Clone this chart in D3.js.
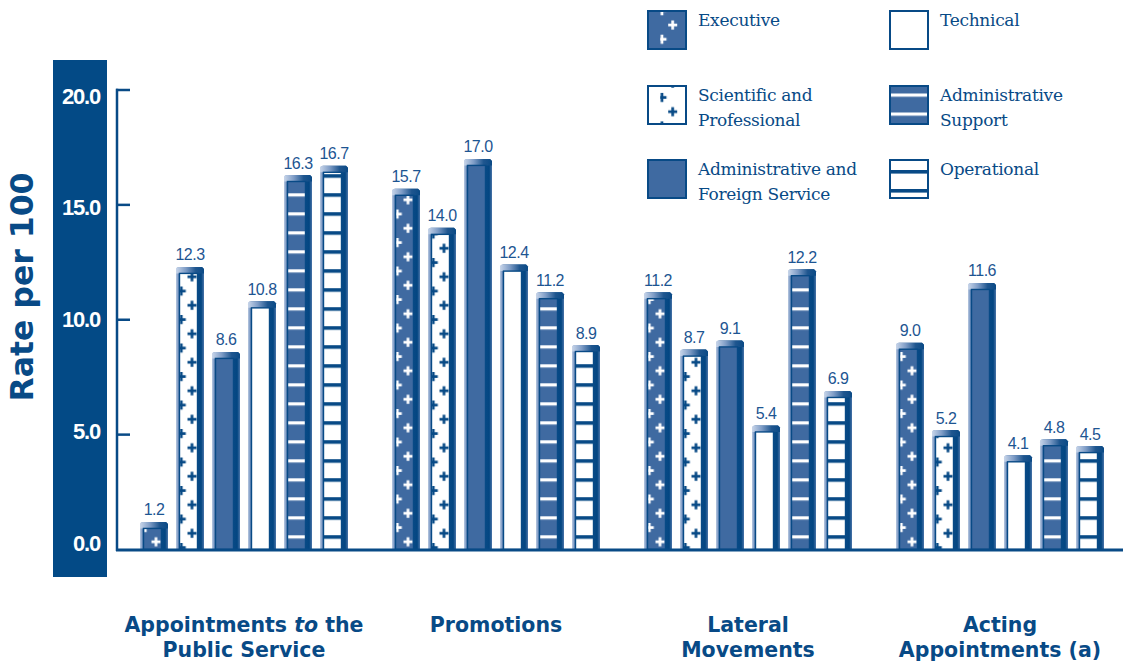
<!DOCTYPE html>
<html>
<head>
<meta charset="utf-8">
<script src="https://cdn.jsdelivr.net/npm/d3@7"></script>
<style>
  html, body { margin: 0; padding: 0; background: #ffffff; }
  svg { display: block; }
</style>
</head>
<body>
<svg id="chart" width="1123" height="663"></svg>
<script>
// ---------------- DATA ----------------
const categories = ["Appointments to the Public Service", "Promotions", "Lateral Movements", "Acting Appointments (a)"];
const categoryLines = [
  ["Appointments *to* the", "Public Service"],
  ["Promotions"],
  ["Lateral", "Movements"],
  ["Acting", "Appointments (a)"]
];
const series = ["Executive", "Scientific and Professional", "Administrative and Foreign Service", "Technical", "Administrative Support", "Operational"];
const seriesLegendLines = [
  ["Executive"],
  ["Scientific and", "Professional"],
  ["Administrative and", "Foreign Service"],
  ["Technical"],
  ["Administrative", "Support"],
  ["Operational"]
];
const executive    = [1.2, 15.7, 11.2, 9.0];
const scientific   = [12.3, 14.0, 8.7, 5.2];
const adminForeign = [8.6, 17.0, 9.1, 11.6];
const technical    = [10.8, 12.4, 5.4, 4.1];
const adminSupport = [16.3, 11.2, 12.2, 4.8];
const operational  = [16.7, 8.9, 6.9, 4.5];
const seriesValues = [executive, scientific, adminForeign, technical, adminSupport, operational];
const yTicks = [0, 5, 10, 15, 20];
const yTickLabels = ["0.0", "5.0", "10.0", "15.0", "20.0"];
const yTitle = "Rate per 100";

// ---------------- STYLE ----------------
const DARK = "#084a86";
const MED = "#3f6aa1";
const LABEL = "#1d5592";
const kinds = ["plusW", "plusD", "solid", "white", "stripeW", "stripeD"];

const svg = d3.select("#chart");
const defs = svg.append("defs");

// gradients
const bodyGrad = defs.append("linearGradient").attr("id", "bodyGrad").attr("x1", 0).attr("x2", 1).attr("y1", 0).attr("y2", 0);
[[0, "#b9c9e1"], [0.08, "#7896c2"], [0.13, "#2a5d96"], [0.75, "#0a4a86"], [0.9, "#034682"], [1, "#4a74a8"]]
  .forEach(s => bodyGrad.append("stop").attr("offset", s[0]).attr("stop-color", s[1]));
const capGrad = defs.append("linearGradient").attr("id", "capGrad").attr("x1", 0).attr("x2", 1).attr("y1", 0).attr("y2", 0);
[[0, "#c9d6ea"], [0.35, "#7e9cc6"], [0.7, "#1f568f"], [1, "#0a4a86"]]
  .forEach(s => capGrad.append("stop").attr("offset", s[0]).attr("stop-color", s[1]));

function plusPath(cx, cy, s, t) {
  const h = s / 2, k = t / 2;
  return `M${cx - k},${cy - h}H${cx + k}V${cy - k}H${cx + h}V${cy + k}H${cx + k}V${cy + h}H${cx - k}V${cy + k}H${cx - h}V${cy - k}H${cx - k}Z`;
}

// patterns use the local coordinates of the element that references them
function addPattern(id, kind, ox, oy) {
  const tileH = (kind === "plusW" || kind === "plusD") ? 28.5 : (kind.startsWith("stripe") ? 19 : 20);
  const p = defs.append("pattern").attr("id", id)
    .attr("patternUnits", "userSpaceOnUse")
    .attr("x", ox).attr("y", oy)
    .attr("width", 36).attr("height", tileH);
  const bg = (kind === "plusW" || kind === "solid" || kind === "stripeW") ? MED : "#ffffff";
  p.append("rect").attr("width", 36).attr("height", tileH).attr("fill", bg);
  if (kind === "plusW" || kind === "plusD") {
    const c = kind === "plusW" ? "#ffffff" : DARK;
    p.append("path").attr("d", plusPath(12.5, 7, 9, 2.7)).attr("fill", c);
    p.append("path").attr("d", plusPath(1.8, 21.25, 9, 2.7)).attr("fill", c);
  } else if (kind === "stripeW") {
    p.append("rect").attr("x", 0).attr("y", 0).attr("width", 36).attr("height", 3.2).attr("fill", "#ffffff");
  } else if (kind === "stripeD") {
    p.append("rect").attr("x", 0).attr("y", 0).attr("width", 36).attr("height", 3.6).attr("fill", DARK);
  }
}

// ---------------- SCALES ----------------
const y = d3.scaleLinear().domain([0, 20]).range([549.5, 90]);
const yLabel = d3.scaleLinear().domain([0, 20]).range([543, 95.5]);
const x0 = d3.scaleBand().domain(categories).range([122, 1130]).paddingInner(1 / 7).paddingOuter(1 / 14);
const x1 = d3.scaleBand().domain(series).range([-4, 212]).paddingInner(2 / 9).paddingOuter(1 / 9);
const bw = x1.bandwidth();
const CAP = 6.5, INSET = 3.5, FACEW = 18;

// bar patterns: origin at the face's left edge (local coords of each bar group)
const patternOffsetsY = { plusW: 534.8, plusD: 526.3, solid: 0, white: 0, stripeW: 535.3, stripeD: 535.2 };
series.forEach((s, j) => {
  const k = kinds[j];
  addPattern("pat" + j, k, INSET, patternOffsetsY[k]);
});

// ---------------- Y AXIS BAND ----------------
svg.append("rect").attr("x", 53).attr("y", 60).attr("width", 54).attr("height", 517).attr("fill", "#034a86");

svg.append("g").selectAll("text").data(yTicks).join("text")
  .attr("x", 100).attr("y", d => yLabel(d) + 8)
  .attr("text-anchor", "end")
  .attr("fill", "#ffffff")
  .attr("font-family", "Liberation Sans, Arial, sans-serif")
  .attr("font-weight", "bold")
  .attr("font-size", 22)
  .attr("letter-spacing", -1.2)
  .text((d, i) => yTickLabels[i]);

svg.append("text")
  .attr("transform", "translate(33,287) rotate(-90)")
  .attr("text-anchor", "middle")
  .attr("fill", DARK)
  .attr("font-family", "DejaVu Sans, sans-serif")
  .attr("font-weight", "bold")
  .attr("font-size", 31.5)
  .text(yTitle);

// axis line + ticks
const axisG = svg.append("g").attr("stroke", DARK).attr("fill", "none");
axisG.append("line").attr("x1", 117).attr("x2", 117).attr("y1", y(20) - 1.2).attr("y2", y(0) + 1.5).attr("stroke-width", 2.5);
axisG.selectAll("line.tick").data(yTicks.filter(d => d > 0)).join("line").attr("class", "tick")
  .attr("x1", 116).attr("x2", 130).attr("y1", d => y(d)).attr("y2", d => y(d)).attr("stroke-width", 2.5);

// ---------------- BARS ----------------
const rows = categories.flatMap((c, i) => series.map((s, j) => ({ c, s, j, v: seriesValues[j][i] })));
const bars = svg.append("g").selectAll("g").data(rows).join("g")
  .attr("transform", d => `translate(${x0(d.c) + x1(d.s)},0)`);

bars.append("path")
  .attr("d", d => {
    const t = y(d.v), b = y(0);
    return `M0,${b}V${t + 3}Q0,${t} 3,${t}H${bw - 2}L${bw},${t + 2}V${b}Z`;
  })
  .attr("fill", "url(#bodyGrad)");

bars.append("path")
  .attr("d", d => {
    const t = y(d.v);
    return `M0,${t + CAP}V${t + 3}Q0,${t} 3,${t}H${bw - 2}L${bw},${t + 2}V${t + CAP}Z`;
  })
  .attr("fill", "url(#capGrad)");

bars.append("rect")
  .attr("x", INSET)
  .attr("y", d => y(d.v) + CAP)
  .attr("width", FACEW)
  .attr("height", d => Math.max(0, y(0) - y(d.v) - CAP))
  .attr("fill", d => `url(#pat${d.j})`)
  .attr("stroke", DARK)
  .attr("stroke-width", 1.4);

bars.append("text")
  .attr("x", bw / 2)
  .attr("y", d => y(d.v) - 6.5)
  .attr("text-anchor", "middle")
  .attr("fill", LABEL)
  .attr("font-family", "Liberation Sans, Arial, sans-serif")
  .attr("font-size", 16)
  .attr("letter-spacing", -0.5)
  .text(d => d3.format(".1f")(d.v));

// baseline
svg.append("line").attr("x1", 116).attr("x2", 1123).attr("y1", y(0) + 0.5).attr("y2", y(0) + 0.5)
  .attr("stroke", DARK).attr("stroke-width", 2.8);

// ---------------- CATEGORY LABELS ----------------
categories.forEach((c, i) => {
  const cx = x0(c) + (x1(series[5]) + bw) / 2;
  categoryLines[i].forEach((line, li) => {
    const t = svg.append("text")
      .attr("x", cx).attr("y", 632 + li * 25)
      .attr("text-anchor", "middle")
      .attr("fill", DARK)
      .attr("font-family", "DejaVu Sans, sans-serif")
      .attr("font-weight", "bold")
      .attr("font-size", 20.5);
    line.split("*").forEach((part, pi) => {
      if (!part) return;
      t.append("tspan").attr("font-style", pi % 2 === 1 ? "italic" : "normal").text(part);
    });
  });
});

// ---------------- LEGEND ----------------
const legendPos = [
  { x: 647, y: 10 }, { x: 647, y: 85 }, { x: 647, y: 159 },
  { x: 889, y: 10 }, { x: 889, y: 85 }, { x: 889, y: 159 }
];
// pattern origins in each swatch's local coordinates
const legendPatOrigin = [
  { dx: 13.2, dy: 8 }, { dx: 13.2, dy: 19.7 }, { dx: 0, dy: 0 },
  { dx: 0, dy: 0 }, { dx: 0, dy: 8.5 }, { dx: 0, dy: 11 }
];
series.forEach((s, j) => {
  addPattern("lpat" + j, kinds[j], legendPatOrigin[j].dx, legendPatOrigin[j].dy);
});
const leg = svg.append("g").selectAll("g").data(series).join("g")
  .attr("transform", (d, j) => `translate(${legendPos[j].x},${legendPos[j].y})`);
leg.append("rect")
  .attr("x", 1).attr("y", 1).attr("width", 38).attr("height", 38)
  .attr("fill", (d, j) => `url(#lpat${j})`)
  .attr("stroke", DARK).attr("stroke-width", 2);
leg.each(function (d, j) {
  const g = d3.select(this);
  seriesLegendLines[j].forEach((line, li) => {
    g.append("text")
      .attr("x", 51).attr("y", 15.5 + li * 25.5)
      .attr("fill", DARK)
      .attr("font-family", "DejaVu Serif, serif")
      .attr("font-size", 17)
      .attr("letter-spacing", -0.3)
      .text(line);
  });
});
</script>
</body>
</html>
